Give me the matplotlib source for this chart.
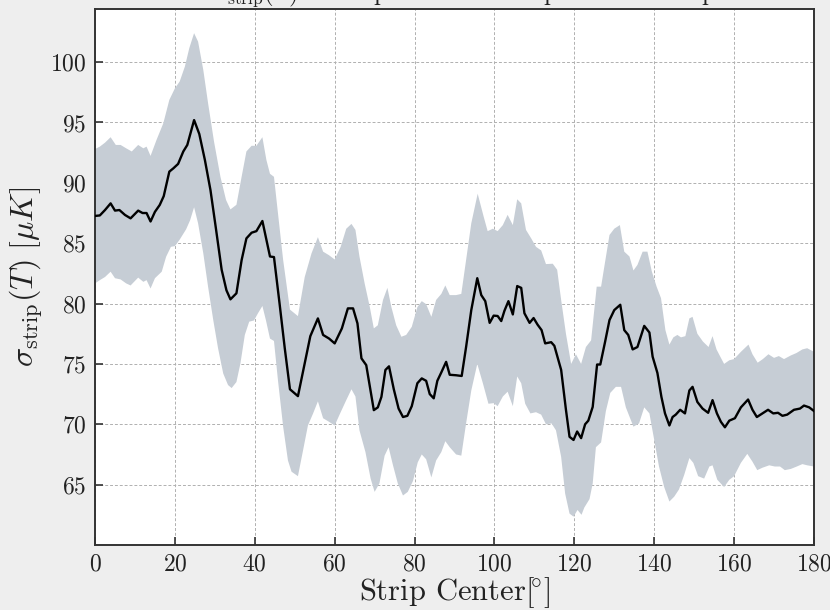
import numpy as np
import matplotlib
matplotlib.use("Agg")
import matplotlib.pyplot as plt

plt.rcParams['mathtext.fontset'] = 'cm'
plt.rcParams['font.family'] = 'serif'
plt.rcParams['font.serif'] = ['cmr10']
plt.rcParams['axes.formatter.use_mathtext'] = True

# mean curve
mean_x = [0, 1.2, 2.5, 3.9, 5, 6.1, 7.5, 8.9, 10.8, 11.9, 12.9, 13.9, 15, 16.2, 17.2,
          18.6, 19.6, 20.8, 22.1, 23.1, 24.8, 26.1, 27.5, 28.9, 30.2, 31.7, 32.9, 33.9,
          35.4, 36.7, 37.9, 39.2, 40.4, 41.9, 43.8, 44.8, 46.2, 47.5, 48.8, 50.8, 52.5,
          53.9, 55.8, 57.1, 58.6, 60, 61.8, 63.3, 64.6, 65.7, 66.7, 67.9, 69.8, 70.8,
          71.7, 72.7, 73.6, 74.8, 76, 77.1, 78.2, 79.3, 80.7, 81.8, 82.9, 83.8, 84.8,
          85.7, 86.7, 87.9, 88.8, 90.4, 91.8, 92.9, 94.2, 95.7, 96.7, 97.7, 98.8, 99.8,
          100.8, 101.7, 102.5, 103.5, 104.6, 105.7, 106.7, 107.5, 108.8, 109.8, 110.8,
          111.8, 112.7, 114.2, 115, 116.7, 117.9, 118.8, 119.8, 120.7, 121.7, 122.7,
          123.5, 124.6, 125.7, 126.5, 127.7, 128.8, 130, 131.5, 132.5, 133.5, 134.6,
          135.8, 137.5, 138.8, 139.6, 140.8, 141.8, 142.7, 143.8, 144.6, 145.4, 146.5,
          147.7, 148.8, 149.6, 150.8, 152.1, 153.5, 154.6, 155.7, 156.7, 157.7, 158.8,
          160.2, 161.7, 163.5, 164.6, 165.7, 167.1, 168.5, 169.8, 171, 172.1, 173.3,
          175, 176.5, 177.5, 178.8, 180]
mean_y = [87.26, 87.3, 87.75, 88.3, 87.7, 87.75, 87.34, 87.06, 87.7, 87.5, 87.5, 86.8,
          87.6, 88.17, 88.9, 90.93, 91.2, 91.57, 92.6, 93.14, 95.2, 94.05, 91.9, 89.4,
          86.37, 82.8, 81.1, 80.35, 80.85, 83.6, 85.4, 85.87, 86.0, 86.84, 83.9, 83.85,
          80.0, 76.3, 72.9, 72.33, 75.04, 77.3, 78.77, 77.4, 77.1, 76.7, 77.94, 79.6,
          79.6, 78.36, 75.46, 74.9, 71.17, 71.4, 72.27, 74.5, 74.8, 72.9, 71.3, 70.6,
          70.7, 71.5, 73.4, 73.8, 73.6, 72.5, 72.15, 73.6, 74.3, 75.17, 74.1, 74.06,
          74.0, 76.4, 79.46, 82.1, 80.7, 80.2, 78.4, 79.0, 78.97, 78.55, 79.4, 80.2,
          79.1, 81.45, 81.3, 79.2, 78.4, 78.8, 78.25, 77.8, 76.7, 76.8, 76.5, 74.5,
          71.2, 68.96, 68.7, 69.4, 68.85, 70.0, 70.3, 71.44, 74.95, 74.95, 76.83, 78.63,
          79.46, 79.9, 77.8, 77.4, 76.2, 76.4, 78.15, 77.6, 75.6, 74.25, 72.27, 70.9,
          69.9, 70.6, 70.8, 71.2, 70.9, 72.8, 73.1, 71.85, 71.3, 70.95, 72.0, 70.9,
          70.2, 69.75, 70.3, 70.5, 71.4, 72.05, 71.2, 70.6, 70.9, 71.2, 70.9, 70.95,
          70.7, 70.8, 71.2, 71.3, 71.55, 71.4, 71.1]

# upper edge of the band
upper_x = [0, 1.2, 2.5, 3.9, 5.2, 6.4, 7.8, 9.2, 10.8, 12.1, 12.9, 13.9, 15.4, 17.1,
           18.6, 20, 21.2, 22.5, 23.6, 24.8, 25.8, 27.1, 28.3, 29.8, 31.4, 32.8, 33.9,
           35.4, 36.7, 37.9, 39.2, 40.4, 41.9, 42.9, 43.8, 44.8, 45.8, 47.1, 48.8, 50.8,
           52.5, 54.2, 55.8, 57.1, 58.6, 60, 61.5, 62.9, 64.2, 65.2, 66.2, 67.5, 68.8,
           69.8, 70.8, 72.1, 73.2, 74.2, 75.4, 76.7, 77.9, 79.3, 80.7, 81.8, 82.9, 84.2,
           85.4, 86.7, 87.7, 88.8, 90.4, 91.7, 92.9, 94.2, 95.8, 97.3, 98.3, 99.6,
           100.8, 102.1, 103.3, 104.6, 105.7, 106.7, 107.9, 109.2, 110.4, 111.7, 112.9,
           114.6, 115.7, 116.7, 117.9, 119.2, 120.4, 121.7, 122.9, 124.2, 125.6, 126.7,
           127.5, 128.8, 130, 131.4, 132.5, 133.8, 134.8, 135.8, 137.1, 138.3, 139.4,
           140.6, 141.7, 142.8, 143.8, 144.8, 145.8, 146.7, 147.8, 148.8, 149.6, 150.8,
           152.2, 153.6, 154.6, 155.6, 156.7, 157.5, 158.8, 160, 161.7, 163.6, 164.6,
           165.9, 167.2, 168.6, 170, 171.2, 172.5, 174.2, 175.6, 177.1, 178.3, 180]
upper_y = [92.8, 93.0, 93.33, 93.78, 93.14, 93.14, 92.86, 92.6, 93.14, 92.86, 93.0,
           92.23, 93.56, 94.94, 96.87, 97.83, 98.4, 99.64, 101.16, 102.4, 101.7, 99.36,
           96.6, 93.4, 90.5, 88.58, 87.8, 88.18, 90.5, 92.6, 93.07, 93.07, 93.78, 91.9,
           90.75, 90.5, 87.48, 83.6, 79.5, 78.96, 82.2, 84.16, 85.5, 84.3, 84.0, 83.65,
           84.7, 86.2, 86.6, 86.1, 83.9, 81.67, 79.7, 77.94, 78.2, 80.3, 81.3, 79.7,
           78.2, 77.25, 77.4, 78.07, 79.7, 80.2, 79.95, 78.9, 80.3, 80.8, 81.5, 80.7,
           80.7, 80.8, 83.6, 86.65, 89.1, 87.2, 86.0, 86.2, 86.0, 86.5, 87.35, 86.5,
           88.64, 88.3, 86.1, 85.4, 84.7, 84.4, 83.27, 83.3, 82.8, 80.3, 77.5, 75.0,
           75.8, 75.0, 76.4, 76.95, 81.4, 81.4, 83.04, 85.68, 86.2, 86.5, 84.3, 83.9,
           82.74, 83.2, 84.3, 84.3, 82.66, 81.4, 80.45, 77.8, 76.6, 77.2, 77.4, 77.2,
           77.3, 78.77, 78.9, 77.5, 76.85, 76.4, 77.3, 76.2, 75.5, 75.0, 75.3, 75.4,
           76.0, 76.6, 75.8, 75.1, 75.4, 75.8, 75.5, 75.65, 75.4, 75.7, 75.9, 76.2,
           76.3, 76.0]

# lower edge of the band
lower_x = [0, 1.2, 2.5, 3.9, 5, 6.4, 7.8, 8.9, 10.8, 12.1, 12.9, 13.9, 15, 16.7, 17.8,
           19, 20, 21.2, 22.8, 23.8, 24.8, 25.8, 27.1, 28.3, 29.6, 30.8, 32.1, 33.3,
           34.2, 35.4, 36.4, 37.5, 38.6, 39.8, 40.8, 41.9, 42.8, 43.8, 44.8, 45.8, 47.1,
           48.3, 49.2, 50.8, 52.1, 53.3, 54.6, 55.8, 57.1, 58.6, 60, 61.5, 62.9, 64.2,
           65.2, 66.2, 67.7, 69, 70, 71.2, 72.5, 73.5, 74.6, 75.8, 77.1, 78.3, 79.6,
           80.8, 81.8, 82.9, 84.2, 85.4, 86.7, 87.7, 88.8, 90.4, 91.7, 92.9, 94.2, 95.7,
           97.1, 98.5, 99.8, 100.8, 102.1, 103.3, 104.6, 105.7, 106.7, 107.7, 109,
           110.4, 111.7, 112.9, 114.3, 115.4, 116.7, 117.7, 118.8, 119.8, 120.8, 121.8,
           122.5, 123.8, 124.6, 125.4, 126.7, 127.9, 129, 130.4, 131.7, 132.9, 134.8,
           136.2, 137.5, 138.8, 140, 141.2, 142.5, 143.8, 145, 146.2, 147.5, 148.8,
           149.8, 151, 152.5, 153.8, 154.6, 155.8, 157.5, 158.8, 160, 161.7, 163.3,
           164.6, 165.8, 167.1, 168.8, 170.2, 171.5, 172.7, 174.2, 175.7, 177.1, 178.3,
           180]
lower_y = [81.67, 81.94, 82.2, 82.64, 82.1, 82.0, 81.67, 81.5, 82.15, 81.8, 81.94,
           81.25, 82.1, 82.64, 83.88, 84.7, 84.76, 85.3, 86.15, 86.9, 87.98, 86.65,
           84.17, 81.4, 78.63, 76.3, 74.2, 73.25, 73.0, 73.5, 75.04, 77.4, 78.5, 78.6,
           79.2, 79.8, 78.6, 77.1, 76.9, 73.64, 69.8, 67.0, 66.07, 65.7, 67.87, 69.9,
           70.9, 71.9, 70.5, 70.2, 69.9, 71.0, 72.0, 72.9, 72.3, 69.5, 67.7, 65.5, 64.4,
           65.1, 67.4, 68.1, 66.6, 65.1, 64.1, 64.4, 65.3, 66.85, 67.5, 67.1, 65.6,
           67.0, 67.7, 68.6, 68.1, 67.5, 67.4, 70.07, 72.8, 75.0, 73.4, 71.7, 71.75,
           71.5, 72.3, 72.7, 71.5, 73.96, 73.4, 71.7, 70.9, 71.0, 70.8, 70.0, 70.07,
           69.5, 67.3, 64.26, 62.6, 62.35, 62.9, 62.5, 63.1, 63.8, 65.1, 68.1, 68.5,
           71.1, 72.6, 73.1, 73.1, 71.4, 69.8, 70.07, 71.4, 70.9, 68.7, 66.5, 64.8,
           63.6, 64.0, 64.6, 65.8, 67.2, 66.8, 65.7, 65.5, 66.5, 66.6, 65.4, 64.8, 65.4,
           65.7, 66.8, 67.55, 66.9, 66.2, 66.4, 66.6, 66.5, 66.5, 66.2, 66.3, 66.5,
           66.7, 66.6, 66.5]

x_ticks = [0, 20, 40, 60, 80, 100, 120, 140, 160, 180]
y_ticks = [65, 70, 75, 80, 85, 90, 95, 100]

title_text = r"$\sigma_{\rm strip}(T)$ vs strip center in the patch on a map"

fig = plt.figure(figsize=(8.3, 6.1), dpi=100, facecolor='#eeeeee')
ax = fig.add_axes([0.1145, 0.1066, 0.8662, 0.8786])
ax.set_facecolor('white')

band_x = np.concatenate([upper_x, lower_x[::-1]])
band_y = np.concatenate([upper_y, lower_y[::-1]])
ax.fill(band_x, band_y, color='#c6cdd5', lw=0, zorder=2)
ax.plot(mean_x, mean_y, color='black', lw=1.7, zorder=3)

ax.set_xlim(0, 180)
ax.set_ylim(60, 104.4)
ax.set_xticks(x_ticks)
ax.set_yticks(y_ticks)
ax.grid(True, ls=(0, (3, 2)), color='#b0b0b0', lw=0.7, zorder=1)
ax.set_axisbelow(True)
ax.tick_params(direction='in', length=6, width=1.2, labelsize=17, color='#333333',
               labelcolor='#222222', pad=6)
for s in ax.spines.values():
    s.set_color('#333333')
    s.set_linewidth(1.4)

ax.set_xlabel(r"Strip Center$[\!{}^{\circ}]$", fontsize=22, color='#222222', labelpad=0)
ax.set_ylabel(r"$\sigma_{\rm strip}(T)\ [\mu K]$", fontsize=23, color='#222222', labelpad=4)
fig.text(0.56, 1.0, title_text, ha='center', va='baseline', fontsize=18, color='#222222')

fig.savefig('out.png', dpi=100, facecolor=fig.get_facecolor())
